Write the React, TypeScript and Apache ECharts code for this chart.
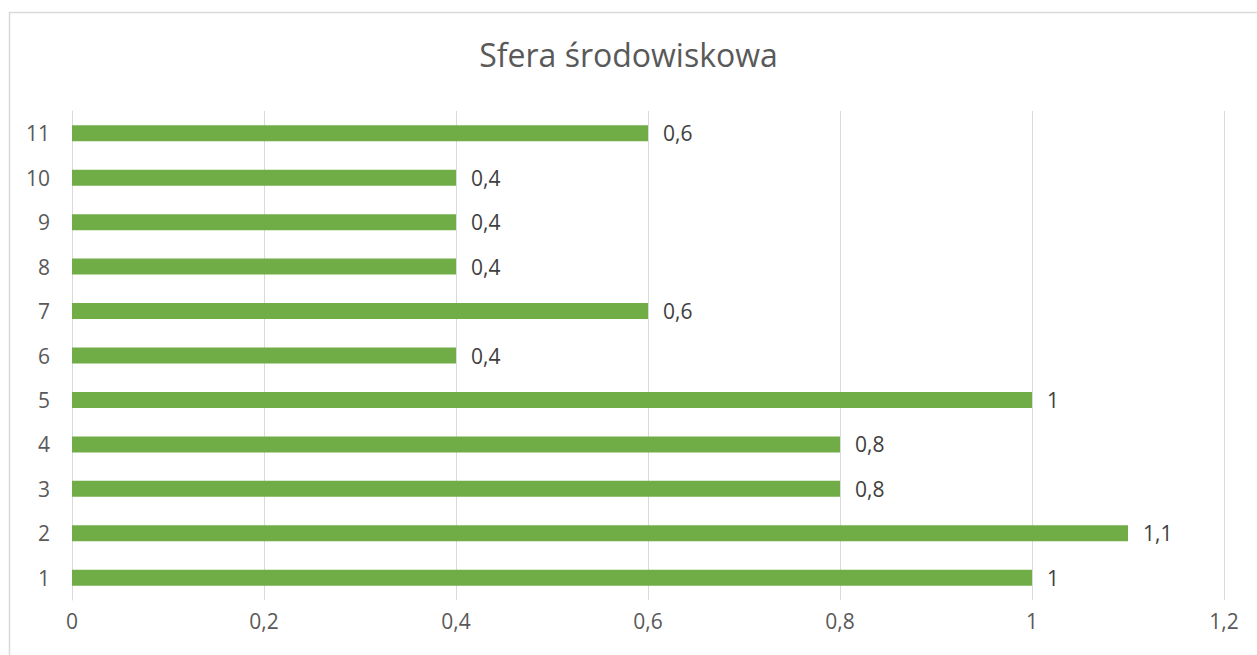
import React, { useEffect, useRef } from "react";
import * as echarts from "echarts";

const categories = ["1", "2", "3", "4", "5", "6", "7", "8", "9", "10", "11"];
const values = [1, 1.1, 0.8, 0.8, 1, 0.4, 0.6, 0.4, 0.4, 0.4, 0.6];
const titleText = "Sfera środowiskowa";

const FONT = "'Open Sans', 'Noto Sans', sans-serif";
const fmt = (v: number) => String(Math.round(v * 10) / 10).replace(".", ",");

export default function App() {
  const ref = useRef<HTMLDivElement>(null);
  useEffect(() => {
    if (!ref.current) return;
    const chart = echarts.init(ref.current, undefined, { renderer: "svg" });
    chart.setOption({
      animation: false,
      backgroundColor: "#ffffff",
      textStyle: { fontFamily: FONT },
      title: {
        text: titleText,
        left: "center",
        top: 33,
        textStyle: { fontFamily: FONT, fontSize: 32, fontWeight: "normal", color: "#595959" },
      },
      graphic: [
        {
          type: "rect",
          shape: { x: 9.5, y: 12.5, width: 1300, height: 700 },
          style: { fill: "none", stroke: "#d9d9d9", lineWidth: 1.5 },
          silent: true,
        },
      ],
      grid: { left: 72, right: 33, top: 111, bottom: 55, containLabel: false },
      xAxis: {
        type: "value",
        min: 0,
        max: 1.2,
        interval: 0.2,
        axisLine: { show: false },
        axisTick: { show: false },
        splitLine: { show: true, lineStyle: { color: "#d9d9d9", width: 1 } },
        axisLabel: {
          formatter: (v: number) => fmt(v),
          color: "#595959",
          fontSize: 21,
          fontFamily: FONT,
          margin: 10,
        },
      },
      yAxis: {
        type: "category",
        data: categories,
        axisLine: { show: true, lineStyle: { color: "#d9d9d9", width: 1 } },
        axisTick: { show: false },
        axisLabel: { color: "#595959", fontSize: 21, fontFamily: FONT, margin: 22 },
      },
      series: [
        {
          type: "bar",
          data: values,
          barWidth: 16,
          itemStyle: { color: "#70AD47" },
          label: {
            show: true,
            position: "right",
            distance: 15,
            formatter: (p: any) => fmt(p.value),
            color: "#404040",
            fontSize: 21,
            fontFamily: FONT,
          },
        },
      ],
    });
    return () => chart.dispose();
  }, []);
  return (
    <div
      ref={ref}
      style={{ position: "fixed", left: 0, top: 0, width: 1257, height: 655 }}
    />
  );
}
